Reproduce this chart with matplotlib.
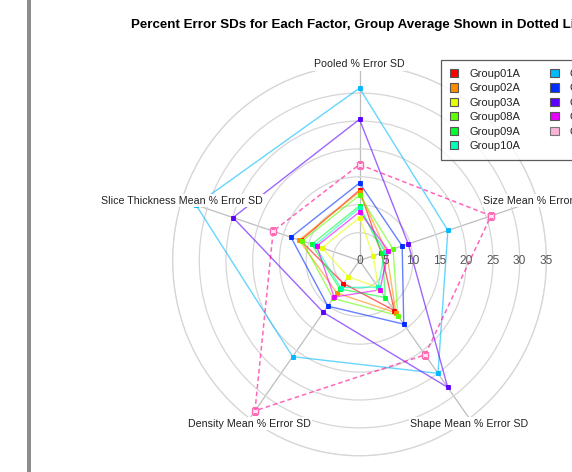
import numpy as np
import matplotlib
matplotlib.use("Agg")
import matplotlib.pyplot as plt
from matplotlib.patches import Patch, Rectangle

plt.rcParams['font.family'] = ['Liberation Sans', 'DejaVu Sans']

# Factors (spokes), clockwise from the top
factors = ["Pooled % Error SD", "Size Mean % Error SD", "Shape Mean % Error SD",
           "Density Mean % Error SD", "Slice Thickness Mean % Error SD"]

group_names = ["Group01A", "Group02A", "Group03A", "Group08A", "Group09A", "Group10A",
               "Group11A", "Group12A", "Group13A", "Group14A", "GroupAvg"]

# Percent error SDs per group, in factor order
group01a = [12.6, 4.3, 11.1, 5.1, 11.6]
group02a = [12.3, 5.3, 11.6, 7.2, 11.9]
group03a = [7.7, 2.7, 6.0, 3.6, 7.4]
group08a = [11.7, 6.6, 12.2, 8.4, 11.3]
group09a = [9.8, 4.5, 8.2, 6.3, 9.4]
group10a = [9.4, 5.0, 5.9, 6.0, 8.8]
group11a = [30.9, 17.4, 25.0, 21.3, 32.2]
group12a = [13.9, 8.4, 14.1, 10.1, 13.5]
group13a = [25.3, 9.6, 28.1, 11.5, 24.9]
group14a = [8.7, 5.7, 6.5, 8.1, 8.4]
group_avg = [17.2, 25.9, 20.9, 33.3, 17.0]

radial_ticks = [0, 5, 10, 15, 20, 25, 30, 35]

colors = ["#FF0000", "#FF8B00", "#E8FF00", "#5DFF00", "#00FF2E", "#00FFB9",
          "#00B9FF", "#002EFF", "#5D00FF", "#E800FF", "#FF008B"]

series = [group01a, group02a, group03a, group08a, group09a, group10a,
          group11a, group12a, group13a, group14a]

W, H = 572, 472
fig = plt.figure(figsize=(W / 100, H / 100), dpi=100)
fig.patch.set_facecolor("white")

# grey bar down the left edge
fig.patches.append(Rectangle((27 / W, 0), 4 / W, 1, transform=fig.transFigure,
                             facecolor="#8C8C8C", edgecolor="none"))

cx, cy = 359.5, 260.5
hw, hh = 186.9, 195.3
ax = fig.add_axes([(cx - hw) / W, (H - cy - hh) / H, 2 * hw / W, 2 * hh / H],
                  projection="polar")
ax.set_aspect("auto")
ax.set_theta_zero_location("N")
ax.set_theta_direction(-1)
ax.set_ylim(0, max(radial_ticks))

angles = np.deg2rad(np.arange(len(factors)) * 360.0 / len(factors))
ax.set_thetagrids(np.rad2deg(angles), labels=[""] * len(factors))
ax.set_rgrids(radial_ticks[1:], labels=[""] * (len(radial_ticks) - 1))
ax.xaxis.grid(True, color="#BDBDBD", lw=0.9)
ax.yaxis.grid(True, color="#D6D6D6", lw=0.9)
ax.spines["polar"].set_color("#D6D6D6")
ax.spines["polar"].set_linewidth(0.9)
ax.tick_params(axis="both", length=0, pad=0)
ax.set_axisbelow(True)

closed = np.append(angles, angles[0])

for vals, col in zip(series, colors[:-1]):
    v = np.append(vals, vals[0])
    ax.plot(closed, v, color=col, lw=1.0, alpha=0.6, zorder=3)
    ax.plot(angles, vals, ls="none", marker="s", ms=3.5, mfc=col, mec=col,
            mew=0.6, zorder=4)

# group average: dashed outline with open squares
v = np.append(group_avg, group_avg[0])
ax.plot(closed, v, color=colors[-1], lw=1.1, alpha=0.6, ls=(0, (3, 2)), zorder=3)
ax.plot(angles, group_avg, ls="none", marker="s", ms=4.4, mfc="#FFE6F2",
        mec="#FF6AB5", mew=1.0, zorder=4)

# factor labels on the outer ring (lower ones sit a little further out)
for a, lab in zip(angles, factors):
    dy = -3.6 if np.cos(a) < -0.5 else (0.7 if np.cos(a) > 0.9 else -0.5)
    ax.annotate(lab, xy=(a, max(radial_ticks)), xytext=(0, dy),
                textcoords="offset points", ha="center", va="center",
                fontsize=7.7, color="#222222", zorder=6, annotation_clip=False,
                bbox=dict(facecolor="white", edgecolor="none", pad=1.0))

# radial scale along the east direction
for t in radial_ticks:
    ax.text(np.pi / 2, t, str(t), ha="center", va="center", fontsize=8.6,
            color="#555555", zorder=5)

fig.text(131 / W, 1 - 25 / H,
         "Percent Error SDs for Each Factor, Group Average Shown in Dotted Lines",
         ha="left", va="center", fontsize=9.6, fontweight="bold")

handles = [Patch(facecolor=c, edgecolor="#555555", lw=0.8) for c in colors[:-1]]
handles.append(Patch(facecolor="#F9B3D9", edgecolor="#777777", lw=0.8))
leg = fig.legend(handles, group_names, loc="upper left",
                 bbox_to_anchor=(441 / W, 1 - 60 / H), bbox_transform=fig.transFigure,
                 ncol=2, fontsize=8, frameon=True, fancybox=False, edgecolor="#333333",
                 borderaxespad=0, handlelength=0.75, handleheight=0.75,
                 handletextpad=1.0, labelspacing=0.4, columnspacing=2.7, borderpad=0.8)
leg.get_frame().set_linewidth(0.9)
for t in leg.get_texts():
    t.set_color("#222222")

fig.savefig("out.png", dpi=100)
